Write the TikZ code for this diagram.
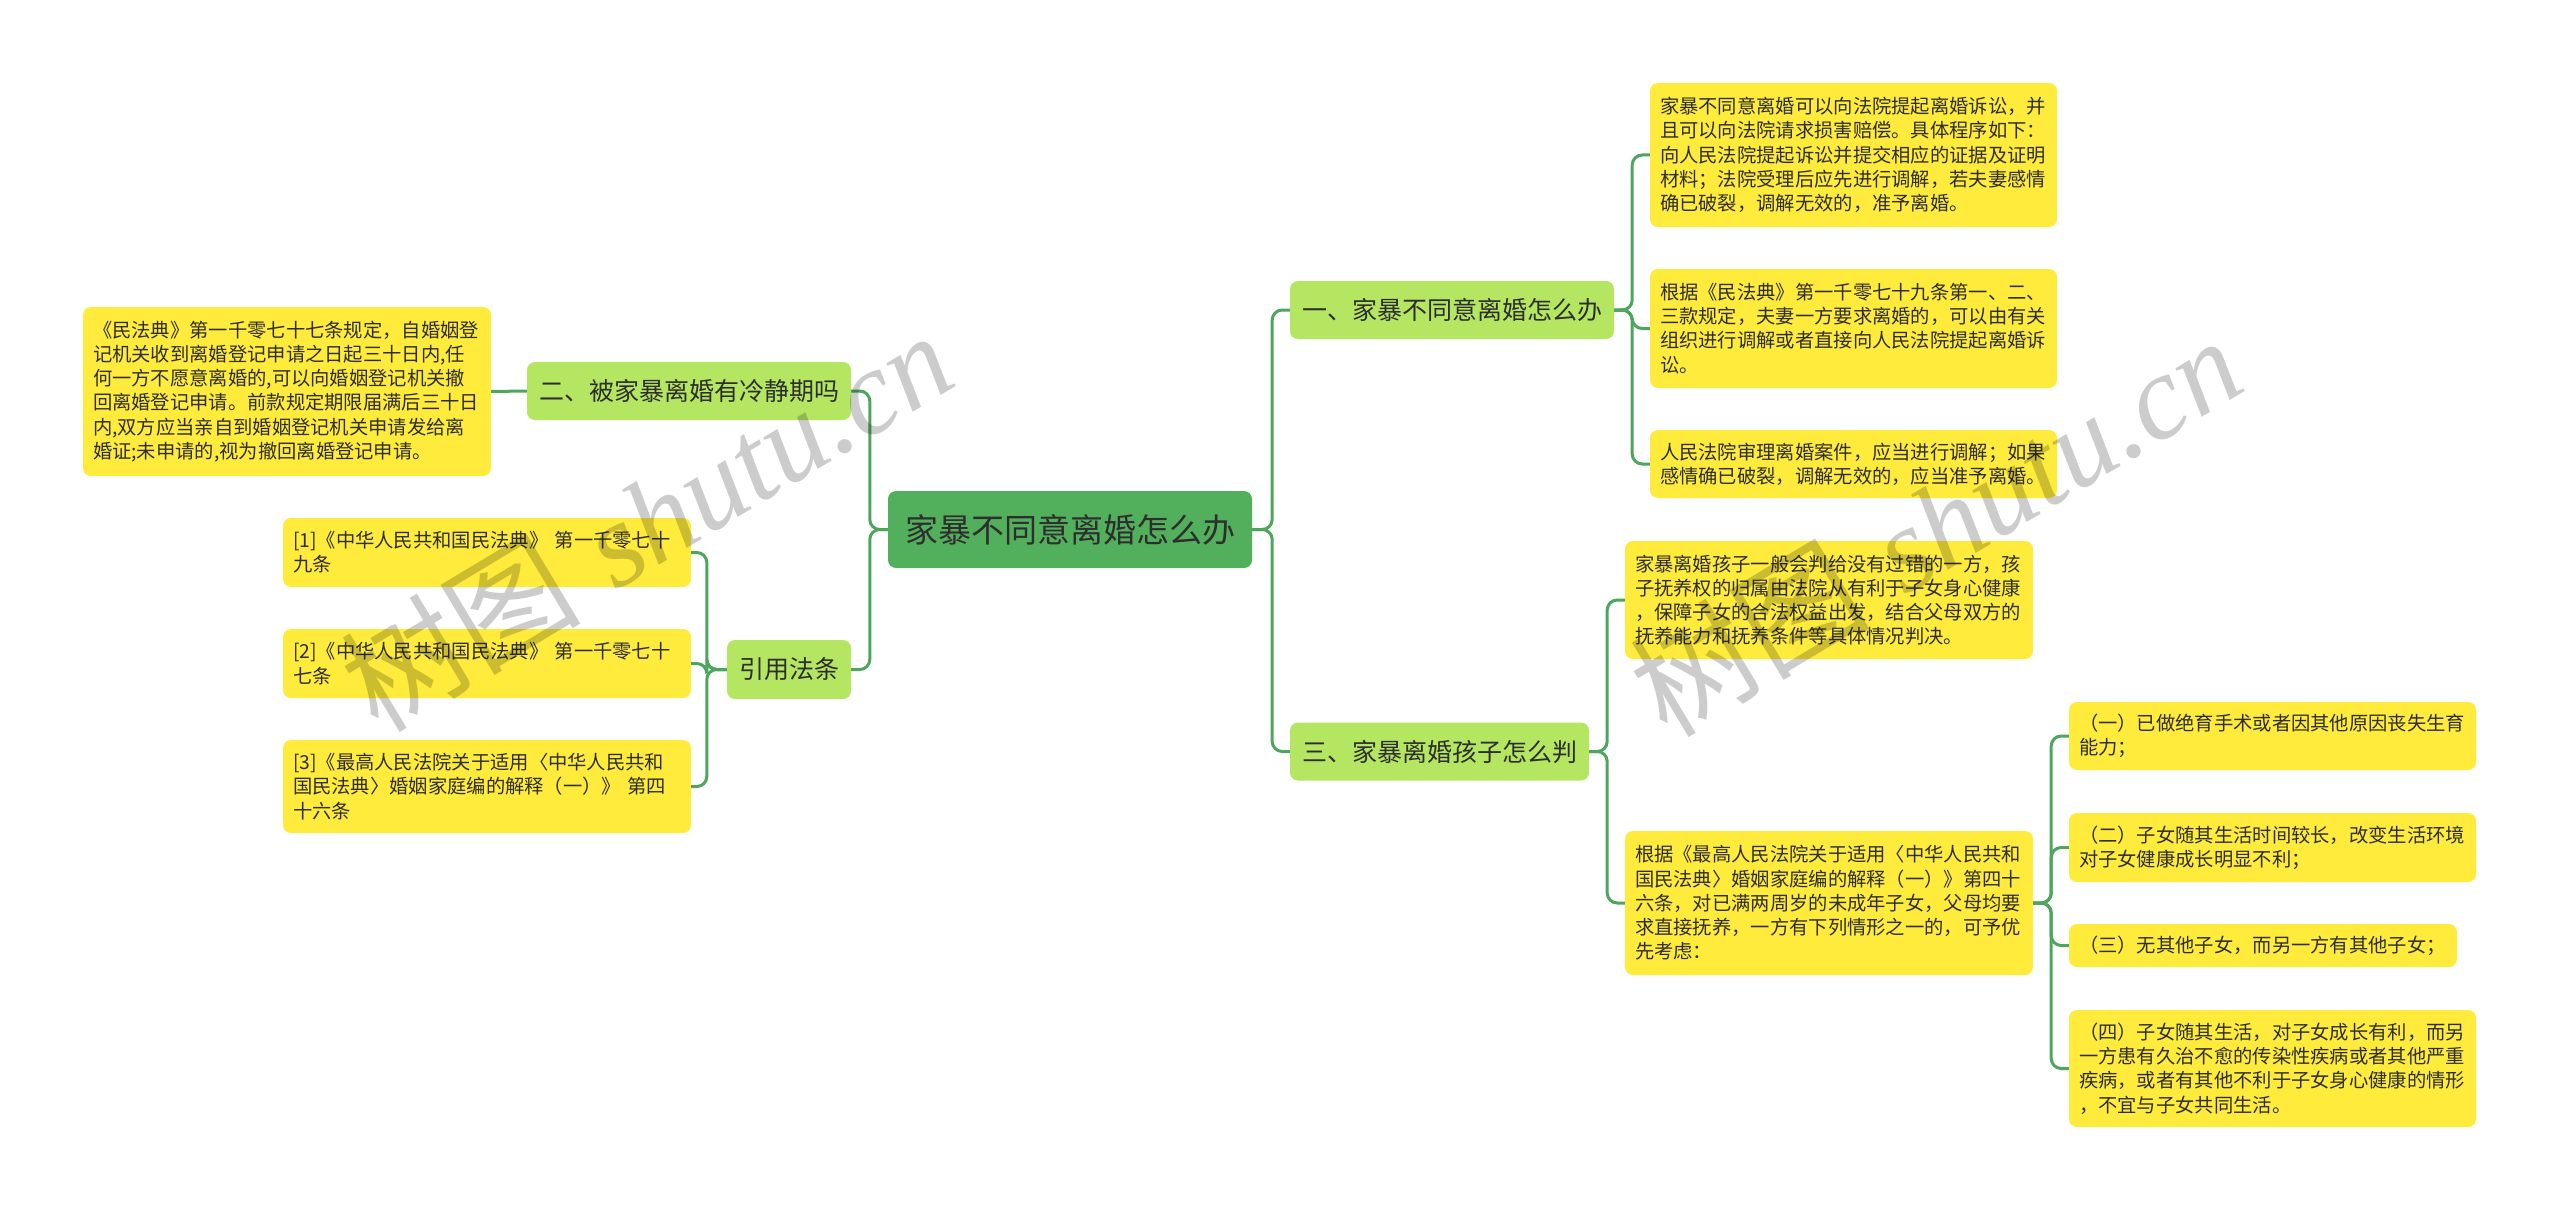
\documentclass[tikz,border=0pt]{standalone}
\usepackage{fontspec}
\newfontfamily\cjk{Noto Sans CJK SC}
\newfontfamily\wmserif{Liberation Serif}
\definecolor{rootc}{HTML}{52B05C}
\definecolor{lonec}{HTML}{B4E662}
\definecolor{leafc}{HTML}{FFEB3B}
\definecolor{linec}{HTML}{4EA55E}
\definecolor{txt}{HTML}{2E2E2E}
\begin{document}
\begin{tikzpicture}[x=1pt,y=-1pt,
  box/.style={rounded corners=8pt, inner sep=0pt, text=txt},
  rootbox/.style={box, fill=rootc, font=\cjk\fontsize{33}{40}\selectfont, minimum width=364pt, minimum height=77pt},
  lonebox/.style={box, fill=lonec, font=\cjk\fontsize{25}{30}\selectfont, minimum height=58pt},
  leaf/.style={box, fill=leafc, font=\cjk\fontsize{19.3}{24.2}\selectfont, align=left, inner xsep=10pt},
  link/.style={draw=linec, line width=3pt, rounded corners=10pt},
  wmark/.style={rotate=31, text=black, opacity=0.2, font=\fontsize{120}{120}\selectfont}
]
\useasboundingbox (0,0) rectangle (2560,1212);
\fill[white] (0,0) rectangle (2560,1212);

% main nodes
\node[rootbox] (root) at (1070,529.5) {家暴不同意离婚怎么办};
\node[lonebox, minimum width=324pt] (n1) at (1452,310) {一、家暴不同意离婚怎么办};
\node[lonebox, minimum width=299pt] (n3) at (1439.5,751.5) {三、家暴离婚孩子怎么判};
\node[lonebox, minimum width=324pt] (n2) at (689,391) {二、被家暴离婚有冷静期吗};
\node[lonebox, minimum width=124pt, minimum height=59pt] (n4) at (789,669.5) {引用法条};

% right leaves
\node[leaf, text width=387pt, minimum height=144pt] (r1) at (1853.5,155) {家暴不同意离婚可以向法院提起离婚诉讼，并\\且可以向法院请求损害赔偿。具体程序如下：\\向人民法院提起诉讼并提交相应的证据及证明\\材料；法院受理后应先进行调解，若夫妻感情\\确已破裂，调解无效的，准予离婚。};
\node[leaf, text width=387pt, minimum height=119pt] (r2) at (1853.5,328.5) {根据《民法典》第一千零七十九条第一、二、\\三款规定，夫妻一方要求离婚的，可以由有关\\组织进行调解或者直接向人民法院提起离婚诉\\讼。};
\node[leaf, text width=387pt, minimum height=68pt] (r3) at (1853.5,464) {人民法院审理离婚案件，应当进行调解；如果\\感情确已破裂，调解无效的，应当准予离婚。};
\node[leaf, text width=388pt, minimum height=118pt] (r4) at (1829,600) {家暴离婚孩子一般会判给没有过错的一方，孩\\子抚养权的归属由法院从有利于子女身心健康\\，保障子女的合法权益出发，结合父母双方的\\抚养能力和抚养条件等具体情况判决。};
\node[leaf, text width=388pt, minimum height=144pt] (r5) at (1829,903) {根据《最高人民法院关于适用〈中华人民共和\\国民法典〉婚姻家庭编的解释（一）》第四十\\六条，对已满两周岁的未成年子女，父母均要\\求直接抚养，一方有下列情形之一的，可予优\\先考虑：};
\node[leaf, text width=387pt, minimum height=68pt] (s1) at (2272.5,736) {（一）已做绝育手术或者因其他原因丧失生育\\能力；};
\node[leaf, text width=387pt, minimum height=69pt] (s2) at (2272.5,847.5) {（二）子女随其生活时间较长，改变生活环境\\对子女健康成长明显不利；};
\node[leaf, text width=368pt, minimum height=43pt] (s3) at (2263,945.5) {（三）无其他子女，而另一方有其他子女；};
\node[leaf, text width=387pt, minimum height=117pt] (s4) at (2272.5,1068.5) {（四）子女随其生活，对子女成长有利，而另\\一方患有久治不愈的传染性疾病或者其他严重\\疾病，或者有其他不利于子女身心健康的情形\\，不宜与子女共同生活。};

% left leaves
\node[leaf, text width=388pt, minimum height=169pt] (l1) at (287,391.5) {《民法典》第一千零七十七条规定，自婚姻登\\记机关收到离婚登记申请之日起三十日内,任\\何一方不愿意离婚的,可以向婚姻登记机关撤\\回离婚登记申请。前款规定期限届满后三十日\\内,双方应当亲自到婚姻登记机关申请发给离\\婚证;未申请的,视为撤回离婚登记申请。};
\node[leaf, text width=388pt, minimum height=69pt] (f1) at (487,552.5) {[1]《中华人民共和国民法典》 第一千零七十\\九条};
\node[leaf, text width=388pt, minimum height=69pt] (f2) at (487,663.5) {[2]《中华人民共和国民法典》 第一千零七十\\七条};
\node[leaf, text width=388pt, minimum height=93pt] (f3) at (487,786.5) {[3]《最高人民法院关于适用〈中华人民共和\\国民法典〉婚姻家庭编的解释（一）》 第四\\十六条};

% connectors right
\draw[link] (root.east) -- ++(20,0) |- (n1.west);
\draw[link] (root.east) -- ++(20,0) |- (n3.west);
\draw[link] (n1.east) -- ++(18,0) |- (r1.west);
\draw[link] (n1.east) -- ++(18,0) |- (r2.west);
\draw[link] (n1.east) -- ++(18,0) |- (r3.west);
\draw[link] (n3.east) -- ++(18,0) |- (r4.west);
\draw[link] (n3.east) -- ++(18,0) |- (r5.west);
\draw[link] (r5.east) -- ++(18,0) |- (s1.west);
\draw[link] (r5.east) -- ++(18,0) |- (s2.west);
\draw[link] (r5.east) -- ++(18,0) |- (s3.west);
\draw[link] (r5.east) -- ++(18,0) |- (s4.west);
% connectors left
\draw[link] (root.west) -- ++(-18,0) |- (n2.east);
\draw[link] (root.west) -- ++(-18,0) |- (n4.east);
\draw[link] (n2.west) -- (l1.east);
\draw[link] (n4.west) -- ++(-20,0) |- (f1.east);
\draw[link] (n4.west) -- ++(-20,0) |- (f2.east);
\draw[link] (n4.west) -- ++(-20,0) |- (f3.east);

% watermarks
\node[wmark] (wm1) at (646,520) {{\cjk 树图} {\wmserif\itshape shutu.cn}};
\node[wmark] (wm2) at (1935,525) {{\cjk 树图} {\wmserif\itshape shutu.cn}};
\end{tikzpicture}
\end{document}
